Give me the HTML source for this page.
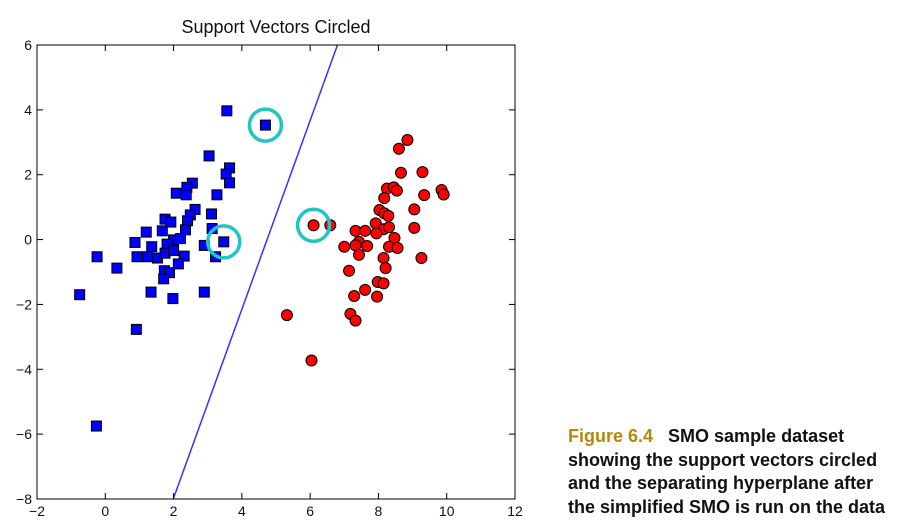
<!DOCTYPE html>
<html><head><meta charset="utf-8">
<style>
html,body{margin:0;padding:0;background:#fff;width:901px;height:527px;overflow:hidden}
svg{position:absolute;left:0;top:0}
#cap{position:absolute;left:568px;top:425px;font:bold 18px/23.6px "Liberation Sans",sans-serif;color:#111;white-space:nowrap}
#cap .fig{color:#b8860b}
</style></head>
<body>
<svg id="chart" width="901" height="527"></svg>
<div id="cap"><span class="fig">Figure 6.4</span>&nbsp;&nbsp;&nbsp;SMO sample dataset<br>showing the support vectors circled<br>and the separating hyperplane after<br>the simplified SMO is run on the data</div>
<script>
const xTicks=[-2,0,2,4,6,8,10,12];
const yTicks=[-8,-6,-4,-2,0,2,4,6];
const blueX=[3.56,3.04,3.64,3.54,3.64,2.55,2.39,2.08,2.37,3.27,2.63,2.49,3.11,1.75,1.92,2.41,1.20,1.67,2.35,3.13,0.87,2.0,2.20,1.36,1.81,2.90,3.47,3.23,-0.24,0.93,1.24,1.53,1.75,2.0,2.31,0.34,2.14,1.73,1.88,1.71,-0.75,1.34,1.98,2.90,0.91,-0.26,4.69];
const blueY=[3.97,2.58,2.21,2.02,1.75,1.74,1.61,1.43,1.38,1.38,0.93,0.76,0.79,0.63,0.54,0.58,0.23,0.27,0.30,0.34,-0.09,-0.01,0.03,-0.22,-0.14,-0.18,-0.07,-0.53,-0.53,-0.53,-0.53,-0.57,-0.42,-0.34,-0.51,-0.88,-0.75,-0.96,-1.02,-1.21,-1.70,-1.62,-1.82,-1.62,-2.77,-5.75,3.53];
const redX=[8.85,8.60,8.66,9.29,8.25,8.45,8.54,8.17,9.34,9.85,9.91,8.03,8.17,8.29,9.05,7.92,8.15,8.31,7.94,9.05,7.33,7.61,8.47,7.43,7.33,7.67,7.00,8.31,8.56,7.43,8.15,9.26,8.21,7.14,7.98,8.15,7.61,7.29,7.96,7.18,7.33,5.32,6.04,6.10,6.59];
const redY=[3.07,2.80,2.06,2.08,1.57,1.61,1.51,1.28,1.37,1.53,1.39,0.91,0.81,0.73,0.93,0.50,0.32,0.38,0.19,0.36,0.27,0.27,0.05,-0.07,-0.18,-0.20,-0.22,-0.22,-0.26,-0.47,-0.57,-0.57,-0.88,-0.96,-1.31,-1.35,-1.55,-1.74,-1.76,-2.29,-2.50,-2.33,-3.73,0.44,0.44];
const svX=[4.69,3.47,6.10];
const svY=[3.53,-0.07,0.44];
const lineX=[1.99,6.80];
const lineY=[-8,6];
const NS="http://www.w3.org/2000/svg";
const svg=document.getElementById('chart');
const L=37,R=515,T=45,B=499;
const sx=v=>L+(v+2)/14*(R-L);
const sy=v=>B-(v+8)/14*(B-T);
function mk(tag,at,parent){const e=document.createElementNS(NS,tag);for(const k in at)e.setAttribute(k,at[k]);(parent||svg).appendChild(e);return e;}
let t=mk('text',{x:276,y:33,'text-anchor':'middle','font-size':18,'font-family':'Liberation Sans, sans-serif',fill:'#111'});
t.textContent='Support Vectors Circled';


const clip=mk('clipPath',{id:'pc'});mk('rect',{x:L,y:T,width:R-L,height:B-T},clip);
const g=mk('g',{'clip-path':'url(#pc)'});
let ln=mk('line',{x1:sx(lineX[0]),y1:sy(lineY[0]),x2:sx(lineX[1]),y2:sy(lineY[1]),stroke:'#3333ff','stroke-width':1.5},g);


for(let i=0;i<blueX.length;i++){
  const e=mk('rect',{x:sx(blueX[i])-5,y:sy(blueY[i])-5,width:10,height:10,fill:'#0000ff',stroke:'#000','stroke-width':1},g);
  
  
}
for(let i=0;i<redX.length;i++){
  const e=mk('circle',{cx:sx(redX[i]),cy:sy(redY[i]),r:5.5,fill:'#ff0000',stroke:'#000','stroke-width':1},g);
  
  
}
for(let i=0;i<svX.length;i++){
  const e=mk('circle',{cx:sx(svX[i]),cy:sy(svY[i]),r:16,fill:'none',stroke:'#22c5c5','stroke-width':3.5},g);
  
  
}
const fr=mk('rect',{x:L,y:T,width:R-L,height:B-T,fill:'none',stroke:'#000','stroke-width':1});


xTicks.forEach(v=>{
  const x=sx(v);
  mk('line',{x1:x,y1:B,x2:x,y2:B-6,stroke:'#000'});
  mk('line',{x1:x,y1:T,x2:x,y2:T+6,stroke:'#000'});
  const tt=mk('text',{x:x,y:B+17,'text-anchor':'middle','font-size':14,'font-family':'Liberation Sans, sans-serif',fill:'#111'});
  tt.textContent=v<0?'\u2212'+(-v):v;
  
  
});
yTicks.forEach(v=>{
  const y=sy(v);
  mk('line',{x1:L,y1:y,x2:L+6,y2:y,stroke:'#000'});
  mk('line',{x1:R,y1:y,x2:R-6,y2:y,stroke:'#000'});
  const tt=mk('text',{x:L-5,y:y+5,'text-anchor':'end','font-size':14,'font-family':'Liberation Sans, sans-serif',fill:'#111'});
  tt.textContent=v<0?'\u2212'+(-v):v;
  
  
});
</script>
</body></html>
